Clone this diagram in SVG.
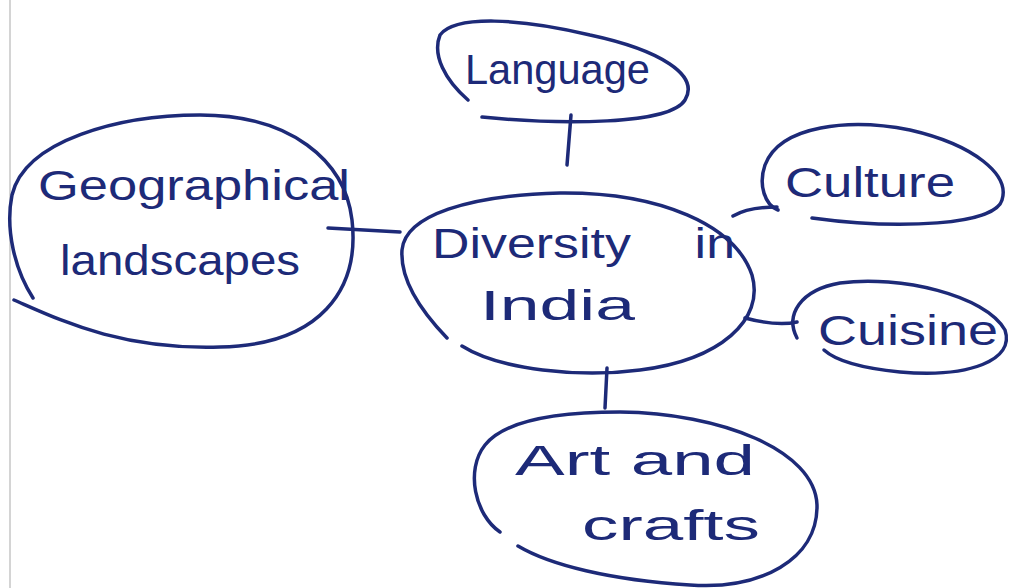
<svg xmlns="http://www.w3.org/2000/svg" width="1012" height="588" viewBox="0 0 1012 588">
<style>
.o{fill:none;stroke:#1d2a78;stroke-width:3.5;stroke-linecap:round;stroke-linejoin:round}
.t{font-family:"Liberation Sans",Arial,sans-serif;fill:#1d2a78;font-size:42px}
</style>
<rect width="1012" height="588" fill="#ffffff"/>
<line x1="10" y1="0" x2="10" y2="588" stroke="#d4d4d4" stroke-width="2"/>
<g id="connectors">
<path class="o" d="M571,115 L567,165"/>
<path class="o" d="M328,228 L400,232"/>
<path class="o" d="M733,216 C745,209 760,207 777,207"/>
<path class="o" d="M745,318 C760,322 780,326 797,322"/>
<path class="o" d="M607,368 L605,408"/>
</g>
<g id="center">
<path class="o" d="M447,338 C420,310 400,280 402,250 C405,215 470,195 560,193 C660,192 735,225 752,275 C765,320 720,360 640,370 C580,378 500,370 462,346"/>
<text class="t" x="432" y="258" word-spacing="40" textLength="303" lengthAdjust="spacingAndGlyphs">Diversity in</text>
<text class="t" x="480" y="320" textLength="155" lengthAdjust="spacingAndGlyphs">India</text>
</g>
<g id="language">
<path class="o" d="M468,100 C445,80 432,55 440,35 C455,15 520,18 590,35 C660,50 700,75 685,100 C670,125 560,125 482,117"/>
<text class="t" x="465" y="84" font-size="46" textLength="185" lengthAdjust="spacingAndGlyphs">Language</text>
</g>
<g id="geography">
<path class="o" d="M33,298 C15,270 5,230 12,195 C25,140 120,115 200,115 C290,115 345,160 352,220 C360,290 320,345 220,347 C120,350 60,320 14,300"/>
<text class="t" x="38" y="200" textLength="312" lengthAdjust="spacingAndGlyphs">Geographical</text>
<text class="t" x="60" y="275" textLength="240" lengthAdjust="spacingAndGlyphs">landscapes</text>
</g>
<g id="culture">
<path class="o" d="M778,210 C765,205 758,185 765,165 C780,125 850,118 910,130 C975,145 1010,175 1002,200 C995,225 900,230 812,218"/>
<text class="t" x="785" y="197" textLength="170" lengthAdjust="spacingAndGlyphs">Culture</text>
</g>
<g id="cuisine">
<path class="o" d="M797,338 C785,315 800,290 840,283 C900,275 985,295 1005,330 C1015,360 970,378 900,372 C860,368 835,360 824,350"/>
<text class="t" x="818" y="345" textLength="180" lengthAdjust="spacingAndGlyphs">Cuisine</text>
</g>
<g id="art">
<path class="o" d="M500,532 C475,515 465,470 485,445 C505,420 560,412 620,412 C720,413 815,450 817,505 C818,560 760,590 690,585 C610,580 550,565 518,546"/>
<text class="t" x="515" y="475" textLength="240" lengthAdjust="spacingAndGlyphs">Art and</text>
<text class="t" x="582" y="540" textLength="178" lengthAdjust="spacingAndGlyphs">crafts</text>
</g>
</svg>
